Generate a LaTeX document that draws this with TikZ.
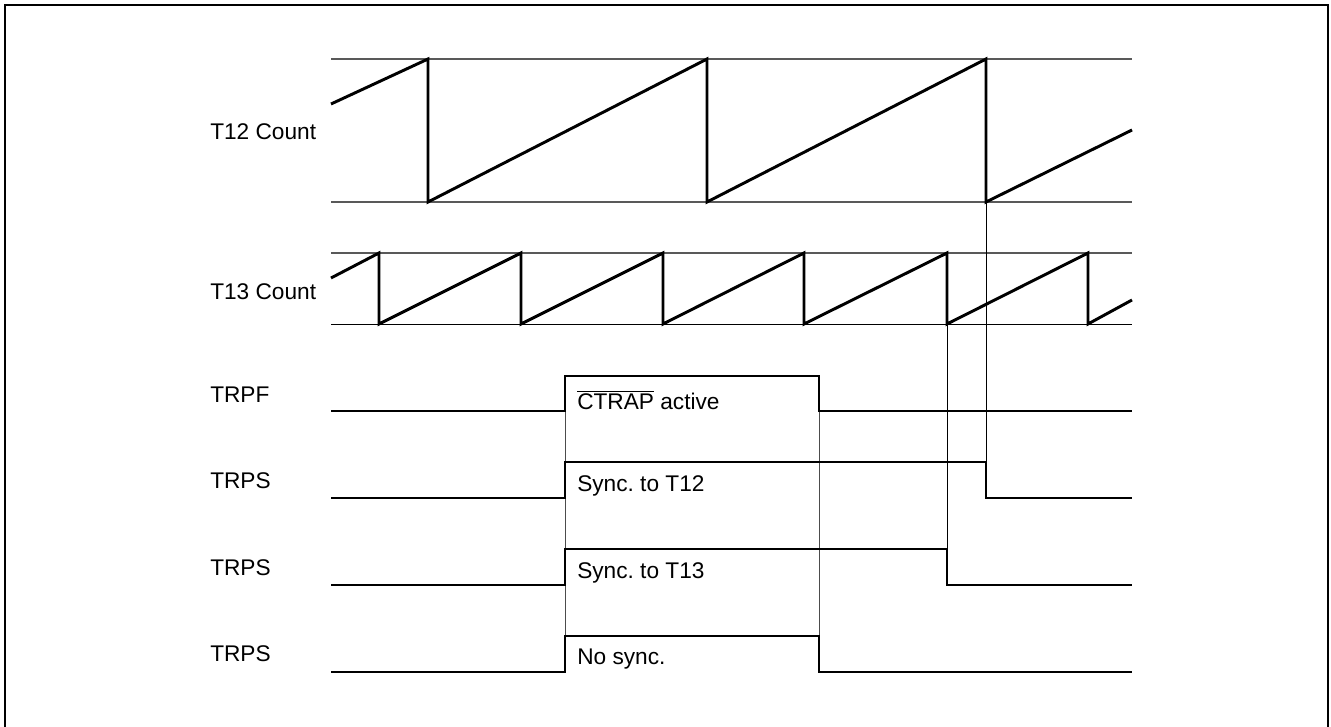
\documentclass[tikz,border=0pt]{standalone}
\usepackage{fontspec}
\setmainfont{Liberation Sans}
\frenchspacing
\begin{document}
\begin{tikzpicture}[x=0.75pt,y=-0.75pt,
  wave/.style={line width=2.2pt,line join=miter,line cap=butt},
  refline/.style={line width=0.8pt,draw=black!65},
  guide/.style={line width=0.7pt,draw=black},
  lbl/.style={anchor=base west,inner sep=0pt,font=\fontsize{17}{20}\selectfont}]
\useasboundingbox (0,0) rectangle (1331,727);
% frame
\draw[line width=1.2pt] (5,727) -- (5,5) -- (1328,5) -- (1328,727);
% labels
\node[lbl] (l12) at (210,140) {T12 Count};
\node[lbl] (l13) at (210,300) {T13 Count};
\node[lbl] (lf) at (210,402) {TRPF};
\node[lbl] (ls1) at (210,488) {TRPS};
\node[lbl] (ls2) at (210,575) {TRPS};
\node[lbl] (ls3) at (210,661) {TRPS};
% reference lines
\draw[refline] (331,59) -- (1132,59);
\draw[refline] (331,202) -- (1132,202);
\draw[refline] (331,253) -- (1132,253);
\draw[guide] (331,324) -- (1132,324);
% guide lines
\coordinate (a1) at (565,376); \coordinate (a2) at (565,672);
\coordinate (b1) at (819,411); \coordinate (b2) at (819,636);
\coordinate (c1) at (986,202); \coordinate (c2) at (986,462);
\coordinate (d1) at (947,324); \coordinate (d2) at (947,549);
\draw[guide,draw=black!70] (a1) -- (a2);
\draw[guide,draw=black!70] (b1) -- (b2);
\draw[guide] (c1) -- (c2);
\draw[guide] (d1) -- (d2);
% T12
\draw[wave] (331,104) -- (428,59) -- (428,202) -- (707,59) -- (707,202) -- (986,59) -- (986,202) -- (1132,130);
% T13
\draw[wave] (331,278) -- (379,253) -- (379,324) -- (521,253) -- (521,324) -- (663,253) -- (663,324) -- (804,253) -- (804,324) -- (947,253) -- (947,324) -- (1088,253) -- (1088,324) -- (1132,300);
% TRPF
\draw[wave] (331,411) -- (565,411) -- (565,376) -- (819,376) -- (819,411) -- (1132,411);
% TRPS T12
\draw[wave] (331,498) -- (565,498) -- (565,462) -- (986,462) -- (986,498) -- (1132,498);
% TRPS T13
\draw[wave] (331,585) -- (565,585) -- (565,549) -- (947,549) -- (947,585) -- (1132,585);
% TRPS no sync
\draw[wave] (331,672) -- (565,672) -- (565,636) -- (819,636) -- (819,672) -- (1132,672);
% texts inside
\node[lbl] (tf) at (577,409) {$\overline{\hbox{CTRAP}}$ active};
\node[lbl] (t1) at (577,491) {Sync. to T12};
\node[lbl] (t2) at (577,578) {Sync. to T13};
\node[lbl] (t3) at (577,664) {No sync.};
\end{tikzpicture}
\end{document}
